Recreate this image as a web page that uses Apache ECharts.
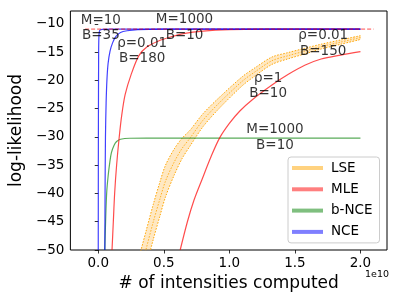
<!DOCTYPE html>
<html>
<head>
<meta charset="utf-8">
<script src="https://cdn.jsdelivr.net/npm/echarts@6/dist/echarts.min.js"></script>
<style>html,body{margin:0;padding:0;background:#fff}#c{width:399px;height:299px}</style>
</head>
<body>
<div id="c"></div>
<script>
// ---- data (x in units of 1e10) ----
const xTicks = [0, 0.5, 1.0, 1.5, 2.0];
const yTicks = [-50, -45, -40, -35, -30, -25, -20, -15, -10];

const truthX = [-0.1, 2.1];
const truthY = [-10.9, -10.9];

const nce1X = [0, 0.001, 0.003, 0.006, 0.012, 0.03, 0.1, 2.0];
const nce1Y = [-50, -30, -15, -11.8, -11.1, -10.95, -10.9, -10.9];

const nce2X = [0.05, 0.052, 0.055, 0.06, 0.066, 0.075, 0.09, 0.11, 0.135, 0.17, 0.22, 0.3, 0.5, 2.0];
const nce2Y = [-50, -40, -30, -24, -20, -17, -14.8, -13.3, -12.2, -11.5, -11.2, -11.0, -10.92, -10.9];

const bnceX = [0.05, 0.056, 0.064, 0.075, 0.088, 0.1, 0.12, 0.14, 0.17, 0.24, 0.5, 2.0];
const bnceY = [-50, -45, -40, -37, -34.5, -32.8, -31.5, -30.8, -30.4, -30.22, -30.2, -30.2];

const mle1X = [0.105, 0.115, 0.125, 0.14, 0.16, 0.18, 0.205, 0.25, 0.31, 0.375, 0.46, 0.55, 0.65, 0.8, 1.0, 1.3, 2.0];
const mle1Y = [-50, -45, -40, -35, -30, -26, -22.5, -19, -15.6, -14, -13, -12.3, -11.7, -11.25, -11.0, -10.92, -10.9];

const mle2X = [0.625, 0.68, 0.73, 0.79, 0.86, 0.925, 1.0, 1.08, 1.175, 1.325, 1.45, 1.575, 1.7, 1.85, 2.0];
const mle2Y = [-50, -45, -41.2, -37.6, -33.5, -30.2, -27.6, -25.4, -23.4, -20.8, -18.9, -17.3, -16.2, -15.5, -14.9];

const lseX    = [0.30, 0.363, 0.42, 0.47, 0.513, 0.58, 0.64, 0.70, 0.80, 0.93, 1.10, 1.20, 1.325, 1.45, 1.575, 1.70, 1.85, 2.00];
const lseMean = [-55.5, -50, -45, -41, -37.8, -34.4, -32, -30.2, -27, -23.8, -20.1, -18.4, -16.5, -15.6, -14.8, -14.0, -13.2, -12.4];
const lseLow  = [-58.7, -53.2, -48.1, -44.0, -40.6, -36.7, -33.8, -31.6, -28.15, -24.75, -20.9, -19.12, -17.15, -16.15, -15.3, -14.42, -13.58, -12.73];
const lseHigh = [-52.3, -46.8, -41.9, -38.0, -35.0, -32.1, -30.2, -28.8, -25.85, -22.85, -19.3, -17.68, -15.85, -15.05, -14.3, -13.58, -12.82, -12.07];

const noteX = [0.020, 0.335, 0.658, 1.716, 1.296, 1.348];
const noteY = [-10.77, -14.74, -10.62, -13.45, -21.03, -30.09];
const noteText = ['M=10\nB=35', 'ρ=0.01\nB=180', 'M=1000\nB=10', 'ρ=0.01\nB=150', 'ρ=1\nB=10', 'M=1000\nB=10'];

const legendNames = ['LSE', 'MLE', 'b-NCE', 'NCE'];

// ---- helpers ----
const zip = (xs, ys) => xs.map((x, i) => [x, ys[i]]);
const FONT = 'DejaVu Sans';
const cBlue = 'rgba(0,0,255,0.75)';
const cRed = 'rgba(255,0,0,0.7)';
const cGreen = 'rgba(0,128,0,0.65)';
const cOrange = '#FFA500';

function lineSeries(name, xs, ys, color, extra) {
  return Object.assign({
    type: 'line', name: name, data: zip(xs, ys), showSymbol: false, symbol: 'none',
    smooth: 0.3, clip: true, silent: true,
    lineStyle: { color: color, width: 1.2 }, itemStyle: { color: color }
  }, extra || {});
}

const dotted = (c) => ({ lineStyle: { color: c, width: 1, type: [1.5, 1.5] } });

const series = [
  // LSE band fill (polygon built through the axis scales)
  { type: 'custom', name: 'LSE', silent: true, z: 1,
    data: [[lseX[0], lseMean[0]]],
    renderItem: function (params, api) {
      const pts = [];
      for (let i = 0; i < lseX.length; i++) pts.push(api.coord([lseX[i], lseHigh[i]]));
      for (let i = lseX.length - 1; i >= 0; i--) pts.push(api.coord([lseX[i], lseLow[i]]));
      const cs = params.coordSys;
      return {
        type: 'group',
        clipPath: { type: 'rect', shape: { x: cs.x, y: cs.y, width: cs.width, height: cs.height } },
        children: [{ type: 'polygon', shape: { points: pts, smooth: 0.25 },
          style: { fill: 'rgba(255,190,80,0.35)', stroke: null } }]
      };
    }
  },
  lineSeries('LSE', lseX, lseLow, cOrange, dotted(cOrange)),
  lineSeries('LSE', lseX, lseHigh, cOrange, dotted(cOrange)),
  lineSeries('LSE', lseX, lseMean, cOrange, dotted('rgba(255,165,0,0.8)')),
  lineSeries('b-NCE', bnceX, bnceY, cGreen),
  lineSeries('MLE', mle1X, mle1Y, cRed),
  lineSeries('MLE', mle2X, mle2Y, cRed),
  lineSeries('NCE', nce1X, nce1Y, cBlue, { smooth: 0.15 }),
  lineSeries('NCE', nce2X, nce2Y, cBlue),
  lineSeries('truth', truthX, truthY, cRed, { smooth: false, lineStyle: { color: cRed, width: 1, type: [4, 2] } }),
  { type: 'scatter', name: 'notes', silent: true, symbolSize: 1, z: 10,
    itemStyle: { color: 'transparent' },
    data: noteX.map((x, i) => [x, noteY[i], noteText[i]]),
    label: { show: true, position: 'inside', formatter: p => p.data[2],
      fontFamily: FONT, fontSize: 13.5, lineHeight: 15.3, color: '#000', align: 'center', verticalAlign: 'middle' } }
];

const legendColors = ['rgba(255,165,0,0.5)', 'rgba(255,0,0,0.5)', 'rgba(0,128,0,0.5)', 'rgba(0,0,255,0.5)'];

const option = {
  animation: false,
  backgroundColor: '#fff',
  grid: { left: 65, right: 12, top: 11, bottom: 49, show: true, borderColor: '#000', borderWidth: 1, backgroundColor: 'transparent' },
  xAxis: {
    type: 'value', min: -0.2125, max: 2.2025,
    name: '# of intensities computed', nameLocation: 'middle', nameGap: 22,
    nameTextStyle: { fontFamily: FONT, fontSize: 17, color: '#000' },
    axisLine: { show: false },
    splitLine: { show: false },
    axisTick: { show: true, inside: false, length: 3.5, lineStyle: { color: '#000', width: 0.8 }, customValues: xTicks },
    axisLabel: { customValues: xTicks, formatter: v => v.toFixed(1), fontFamily: FONT, fontSize: 13.5, color: '#000', margin: 6 }
  },
  yAxis: {
    type: 'value', min: -50, max: -7.7,
    name: 'log-likelihood', nameLocation: 'middle', nameGap: 36,
    nameTextStyle: { fontFamily: FONT, fontSize: 17, color: '#000' },
    axisLine: { show: false },
    splitLine: { show: false },
    axisTick: { show: true, inside: false, length: 3.5, lineStyle: { color: '#000', width: 0.8 }, customValues: yTicks },
    axisLabel: { customValues: yTicks, formatter: v => '\u2212' + Math.abs(v), fontFamily: FONT, fontSize: 13.5, color: '#000', margin: 6 }
  },
  legend: {
    orient: 'vertical', left: 288, top: 157,
    padding: [3, 7, 3, 4], itemWidth: 31, itemHeight: 4, itemGap: 5.3,
    backgroundColor: 'rgba(255,255,255,0.85)', borderColor: '#ccc', borderWidth: 1, borderRadius: 3,
    textStyle: { fontFamily: FONT, fontSize: 13.5, color: '#000', lineHeight: 16, padding: [0, 0, 0, 3] },
    selectedMode: false,
    data: legendNames.map((n, i) => ({ name: n, icon: 'rect', itemStyle: { color: legendColors[i], borderWidth: 0 }, lineStyle: { color: legendColors[i] } }))
  },
  graphic: [
    { type: 'text', right: 10, top: 270, style: { text: '1e10', fontFamily: FONT, fontSize: 9.5, fill: '#000' } }
  ],
  series: series
};

const chart = echarts.init(document.getElementById('c'), null, { renderer: 'canvas' });
chart.setOption(option);
</script>
</body>
</html>
